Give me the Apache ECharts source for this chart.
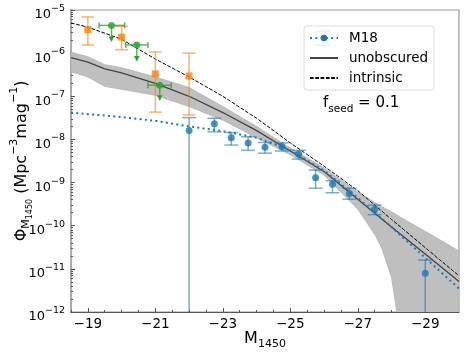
<!DOCTYPE html>
<html>
<head>
<meta charset="utf-8">
<script src="https://cdn.jsdelivr.net/npm/echarts@6.0.0/dist/echarts.min.js"></script>
<style>
html, body { margin: 0; padding: 0; background: #fff; }
#chart { width: 464px; height: 354px; }
</style>
</head>
<body>
<div id="chart"></div>
<script>
// intrinsic LF (dashed)
const intrinsicM = [-18.5, -19, -20, -21, -22, -23, -24, -25, -26, -27, -28, -29, -30];
const intrinsicPhi = [5.0e-6, 4.0e-6, 2.1e-6, 7.3e-7, 2.8e-7, 1.0e-7, 3.1e-8, 8.3e-9, 2.4e-9, 6.5e-10, 1.4e-10, 3.1e-11, 6.9e-12];

// unobscured LF (solid) and its spread
const unobscuredM = [-18.5, -19, -19.5, -20, -21, -22, -23, -24, -25, -26, -27, -28, -29, -30];
const unobscuredPhi = [7.9e-7, 6.2e-7, 4.3e-7, 3.5e-7, 2.0e-7, 1.0e-7, 4.2e-8, 1.6e-8, 5.4e-9, 1.8e-9, 4.1e-10, 9.3e-11, 2.2e-11, 5.1e-12];

const bandM = [-18.5, -19, -19.5, -20, -21, -22, -23, -24, -25, -26, -27, -27.5, -27.7, -28, -28.15, -28.25, -29, -30];
const bandHi = [1.05e-6, 8.3e-7, 5.4e-7, 4.6e-7, 2.8e-7, 1.6e-7, 5.8e-8, 2.0e-8, 6.3e-9, 2.2e-9, 6.0e-10, 3.5e-10, 2.8e-10, 2.1e-10, 1.8e-10, 1.6e-10, 7.4e-11, 2.6e-11];
const bandLo = [3.7e-7, 2.8e-7, 1.7e-7, 1.45e-7, 1.05e-7, 5.8e-8, 2.8e-8, 1.1e-8, 4.4e-9, 1.5e-9, 2.4e-10, 6.3e-11, 3.2e-11, 6.3e-12, 1.1e-12, 1e-13, 1e-13, 1e-13];

// M18 fit (dotted) and binned points
const fitM = [-18.5, -20, -21, -22, -23, -24, -25, -26, -27, -28, -29, -30];
const fitPhi = [4.2e-8, 3.3e-8, 2.7e-8, 2.0e-8, 1.55e-8, 1.1e-8, 5.6e-9, 1.9e-9, 4.4e-10, 9.3e-11, 1.8e-11, 3.5e-12];

const m18M = [-22, -22.75, -23.25, -23.75, -24.25, -24.75, -25.25, -25.75, -26.25, -26.75, -27.5, -29];
const m18Phi = [1.6e-8, 2.3e-8, 1.1e-8, 8.3e-9, 6.6e-9, 6.9e-9, 4.6e-9, 1.3e-9, 9.1e-10, 5.6e-10, 2.4e-10, 7.9e-12];
const m18Lo = [1e-14, 1.5e-8, 7.4e-9, 5.6e-9, 4.8e-9, 5.4e-9, 3.5e-9, 7.4e-10, 5.8e-10, 4.1e-10, 1.8e-10, 1e-14];
const m18Hi = [3.2e-8, 3.1e-8, 1.45e-8, 1.15e-8, 8.5e-9, 8.3e-9, 5.6e-9, 1.95e-9, 1.1e-9, 7.4e-10, 3.0e-10, 1.6e-11];

// faint-end points (orange squares)
const sqM = [-19, -20, -21, -22];
const sqPhi = [3.5e-6, 2.35e-6, 3.3e-7, 2.95e-7];
const sqLo = [1.55e-6, 1.2e-6, 4.3e-8, 3.7e-8];
const sqHi = [6.9e-6, 4.2e-6, 1.07e-6, 1.0e-6];

// faint-end points (green circles, upper limits)
const dotM = [-19.7, -20.45, -21.13];
const dotPhi = [4.4e-6, 1.55e-6, 1.8e-7];
const dotXlo = [-19.33, -20.12, -20.78];
const dotXhi = [-20.09, -20.78, -21.47];
const dotLim = [1.86e-6, 6.6e-7, 8.1e-8];

const xLabels = [-19, -21, -23, -25, -27, -29];
const xMinor = [-18.5, -19.5, -20, -20.5, -21.5, -22, -22.5, -23.5, -24, -24.5, -25.5, -26, -26.5, -27.5, -28, -28.5, -29.5];
const yLabels = [1e-12, 1e-11, 1e-10, 1e-9, 1e-8, 1e-7, 1e-6, 1e-5];
const yMinor = [];
for (let e = -12; e < -5; e++) for (let k = 2; k <= 9; k++) yMinor.push(k * Math.pow(10, e));

const FONT = 'DejaVu Sans';
const BLUE = '#1f77b4';

const pairs = (xs, ys) => xs.map((x, i) => [x, ys[i]]);

function renderBand(params, api) {
  if (params.dataIndex !== 0) return;
  const pts = [];
  for (let i = 0; i < bandM.length; i++) pts.push(api.coord([bandM[i], bandHi[i]]));
  for (let i = bandM.length - 1; i >= 0; i--) pts.push(api.coord([bandM[i], bandLo[i]]));
  return { type: 'polygon', shape: { points: pts }, style: { fill: '#bfbfbf', stroke: '#b3b3b3', lineWidth: 0.8 } };
}

function renderErr(color, cap) {
  return function (params, api) {
    const m = api.value(0);
    const lo = api.coord([m, api.value(1)]);
    const hi = api.coord([m, api.value(2)]);
    const style = { stroke: color, lineWidth: 1.5 };
    return { type: 'group', children: [
      { type: 'line', shape: { x1: hi[0], y1: hi[1], x2: lo[0], y2: lo[1] }, style },
      { type: 'line', shape: { x1: hi[0] - cap, y1: hi[1], x2: hi[0] + cap, y2: hi[1] }, style },
      { type: 'line', shape: { x1: lo[0] - cap, y1: lo[1], x2: lo[0] + cap, y2: lo[1] }, style }
    ]};
  };
}

function renderLimit(params, api) {
  const c = api.coord([api.value(0), api.value(1)]);
  const a = api.coord([api.value(2), api.value(1)]);
  const b = api.coord([api.value(3), api.value(1)]);
  const t = api.coord([api.value(0), api.value(4)]);
  const style = { stroke: 'rgba(44,160,44,0.75)', lineWidth: 1.5 };
  return { type: 'group', children: [
    { type: 'line', shape: { x1: a[0], y1: a[1], x2: b[0], y2: b[1] }, style },
    { type: 'line', shape: { x1: a[0], y1: a[1] - 3, x2: a[0], y2: a[1] + 3 }, style },
    { type: 'line', shape: { x1: b[0], y1: b[1] - 3, x2: b[0], y2: b[1] + 3 }, style },
    { type: 'line', shape: { x1: c[0], y1: c[1], x2: t[0], y2: t[1] }, style },
    { type: 'polygon', shape: { points: [[t[0] - 3, t[1] - 5], [t[0] + 3, t[1] - 5], [t[0], t[1]]] },
      style: { fill: '#2ca02c' } }
  ]};
}

const chart = echarts.init(document.getElementById('chart'), null, { renderer: 'canvas' });
chart.setOption({
  animation: false,
  textStyle: { fontFamily: FONT },
  grid: { left: 71, right: 5, top: 10, bottom: 42, show: true, borderColor: '#9a9a9a', borderWidth: 1.2, outerBoundsMode: 'none' },
  title: {
    text: '{f|f}{s|seed}{f| = 0.1}', left: 323, top: 96, padding: 0,
    textStyle: { fontWeight: 'normal', rich: {
      f: { fontFamily: FONT, fontSize: 15, fontWeight: 'normal', lineHeight: 15, verticalAlign: 'top', color: '#000' },
      s: { fontFamily: FONT, fontSize: 10.5, fontWeight: 'normal', lineHeight: 10.5, verticalAlign: 'top', padding: [8, 0, 0, 0], color: '#000' }
    } }
  },
  legend: {
    orient: 'vertical', left: 304, top: 26,
    data: [
      { name: 'M18' },
      { name: 'unobscured', itemStyle: { opacity: 0 } },
      { name: 'intrinsic', itemStyle: { opacity: 0 } }
    ],
    itemWidth: 28, itemHeight: 8, itemGap: 6,
    padding: [5, 6, 5, 5],
    borderColor: '#dcdcdc', borderWidth: 1, borderRadius: 3,
    backgroundColor: 'rgba(255,255,255,0.85)',
    textStyle: { fontFamily: FONT, fontSize: 13.5, lineHeight: 14, color: '#000', padding: [0, 0, 0, 6] }
  },
  graphic: [{
    type: 'group', z: 200, silent: true,
    children: [
      { type: 'line', shape: { x1: 323, y1: 31, x2: 323, y2: 45 }, style: { stroke: 'rgba(31,119,180,0.75)', lineWidth: 1.5 } },
      { type: 'line', shape: { x1: 316, y1: 31, x2: 330, y2: 31 }, style: { stroke: 'rgba(31,119,180,0.75)', lineWidth: 1.5 } },
      { type: 'line', shape: { x1: 316, y1: 45, x2: 330, y2: 45 }, style: { stroke: 'rgba(31,119,180,0.75)', lineWidth: 1.5 } }
    ]
  }],
  xAxis: [{
    type: 'value', min: -30, max: -18.5, interval: 0.5, inverse: true,
    name: '{m|M}{s|1450}', nameLocation: 'middle', nameGap: 19, nameMoveOverlap: false,
    nameTextStyle: { rich: {
      m: { fontFamily: FONT, fontSize: 16, lineHeight: 16, verticalAlign: 'top', color: '#000' },
      s: { fontFamily: FONT, fontSize: 11, lineHeight: 11, verticalAlign: 'top', padding: [8, 0, 0, 0], color: '#000' }
    } },
    axisLine: { lineStyle: { color: '#555', width: 1 } },
    axisTick: { inside: true, length: 4, customValues: xLabels, lineStyle: { color: '#555' } },
    axisLabel: { customValues: xLabels, margin: 5, fontFamily: FONT, fontSize: 13.5, color: '#000',
      formatter: v => '\u2212' + Math.abs(v) },
    splitLine: { show: false }
  }, {
    type: 'value', min: -30, max: -18.5, interval: 0.5, inverse: true, position: 'bottom',
    axisLine: { show: false },
    axisTick: { inside: true, length: 2, customValues: xMinor, lineStyle: { color: '#555' } },
    axisLabel: { show: false },
    splitLine: { show: false }
  }],
  yAxis: [{
    type: 'log', logBase: 10, min: 1e-12, max: 1e-5,
    name: '{p|\u03a6}{m|M}{n|1450}{p| (Mpc}{e|\u22123}{p|mag}{e|\u22121}{p|)}',
    nameLocation: 'middle', nameRotate: 90, nameGap: 46, nameMoveOverlap: false,
    nameTextStyle: { rich: {
      p: { fontFamily: FONT, fontSize: 16, lineHeight: 16, verticalAlign: 'top', padding: [5, 0, 0, 0], color: '#000' },
      e: { fontFamily: FONT, fontSize: 11, lineHeight: 11, verticalAlign: 'top', color: '#000' },
      m: { fontFamily: FONT, fontSize: 11, lineHeight: 11, verticalAlign: 'top', padding: [12, 0, 0, 0], color: '#000' },
      n: { fontFamily: FONT, fontSize: 8, lineHeight: 8, verticalAlign: 'top', padding: [17, 0, 0, 0], color: '#000' }
    } },
    axisLine: { lineStyle: { color: '#aaa', width: 2 } },
    axisTick: { inside: true, length: 4, customValues: yLabels, lineStyle: { color: '#555' } },
    axisLabel: { customValues: yLabels, margin: 6,
      formatter: v => '{b|10}{e|\u2212' + Math.round(-Math.log10(v)) + '}',
      rich: {
        b: { fontFamily: FONT, fontSize: 13, lineHeight: 13, verticalAlign: 'top', padding: [5, 0, 0, 0], color: '#000' },
        e: { fontFamily: FONT, fontSize: 9.5, lineHeight: 9.5, verticalAlign: 'top', color: '#000' }
      } },
    splitLine: { show: false }
  }, {
    type: 'log', logBase: 10, min: 1e-12, max: 1e-5, position: 'left',
    axisLine: { show: false },
    axisTick: { inside: true, length: 2, customValues: yMinor, lineStyle: { color: '#555' } },
    axisLabel: { show: false },
    splitLine: { show: false }
  }],
  series: [
    { type: 'custom', name: 'band', renderItem: renderBand, clip: true, z: 1, silent: true,
      data: bandM.map((m, i) => [m, bandHi[i], bandLo[i]]), encode: { x: 0, y: 1 } },
    { type: 'line', name: 'unobscured', data: pairs(unobscuredM, unobscuredPhi), symbol: 'none', z: 3,
      color: '#444', lineStyle: { color: '#444', width: 1.3 } },
    { type: 'line', name: 'intrinsic', data: pairs(intrinsicM, intrinsicPhi), symbol: 'none', z: 3,
      color: '#000', lineStyle: { color: '#000', width: 1, type: [3.7, 1.6] } },
    { type: 'line', name: 'M18', data: pairs(fitM, fitPhi), symbol: 'circle', symbolSize: 6, showSymbol: false, z: 3,
      color: BLUE, lineStyle: { color: BLUE, width: 2, type: [2, 3.3] } },
    { type: 'custom', name: 'sqErr', renderItem: renderErr('rgba(255,127,14,0.6)', 6.5), clip: true, z: 4,
      data: sqM.map((m, i) => [m, sqLo[i], sqHi[i]]), encode: { x: 0, y: 1 } },
    { type: 'scatter', name: 'sq', data: pairs(sqM, sqPhi), symbol: 'rect', symbolSize: 7, z: 5, itemStyle: { color: '#ff7f0e' } },
    { type: 'custom', name: 'dotErr', renderItem: renderLimit, clip: true, z: 4,
      data: dotM.map((m, i) => [m, dotPhi[i], dotXlo[i], dotXhi[i], dotLim[i]]), encode: { x: 0, y: 1 } },
    { type: 'scatter', name: 'dot', data: pairs(dotM, dotPhi), symbol: 'circle', symbolSize: 7, z: 5, itemStyle: { color: '#2ca02c' } },
    { type: 'custom', name: 'm18Err', renderItem: renderErr('rgba(31,119,180,0.6)', 7), clip: true, z: 4,
      data: m18M.map((m, i) => [m, m18Lo[i], m18Hi[i]]), encode: { x: 0, y: 1 } },
    { type: 'scatter', name: 'm18', data: pairs(m18M, m18Phi), symbol: 'circle', symbolSize: 7, z: 5, itemStyle: { color: BLUE } }
  ]
});
</script>
</body>
</html>
